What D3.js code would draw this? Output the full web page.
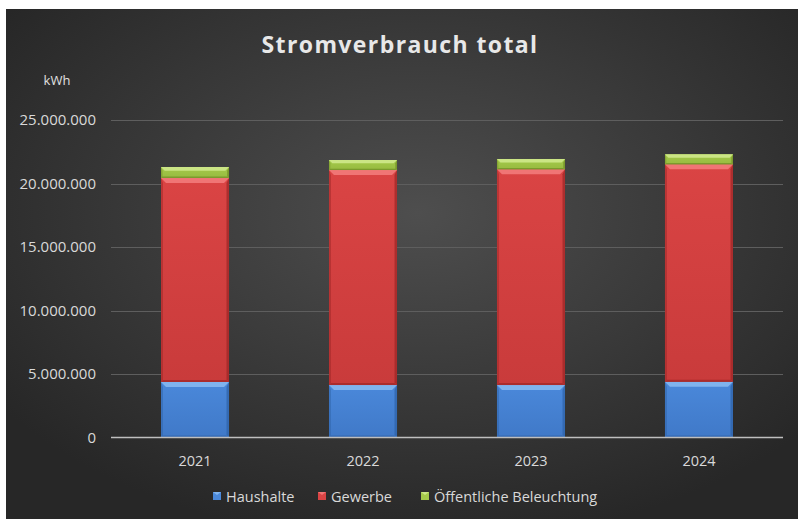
<!DOCTYPE html>
<html><head><meta charset="utf-8">
<script src="https://cdn.jsdelivr.net/npm/d3@7"></script>
<style>html,body{margin:0;padding:0;background:#fff;}svg{display:block;}</style>
</head><body>
<svg id="c" width="798" height="519"></svg>
<script>
const years = ["2021","2022","2023","2024"];
const seriesNames = ["Haushalte","Gewerbe","Öffentliche Beleuchtung"];
const haushalte = [4370000, 4130000, 4130000, 4390000];
const gewerbe = [16060000, 16930000, 16990000, 17120000];
const beleuchtung = [870000, 790000, 810000, 790000];
const yTicks = [0, 5000000, 10000000, 15000000, 20000000, 25000000];
const title = "Stromverbrauch total";
const unitLabel = "kWh";

const colors = [
  {base:"#4a88da", top:"#7fb3ee", side:"#2f63a8", dark:"#4079c8"},
  {base:"#da4444", top:"#f07575", side:"#9e2727", dark:"#c93b3b"},
  {base:"#a4c94a", top:"#cbe585", side:"#6f8c25", dark:"#97bb40"}
];

const svg = d3.select("#c");
const W = 798, H = 519;
const defs = svg.append("defs");
const bg = defs.append("radialGradient").attr("id","bg").attr("cx","52%").attr("cy","40%").attr("r","65%");
bg.append("stop").attr("offset","0%").attr("stop-color","#4e4e4e");
bg.append("stop").attr("offset","100%").attr("stop-color","#272727");
svg.append("rect").attr("x",6).attr("y",9).attr("width",W-6).attr("height",H-9).attr("fill","url(#bg)");

colors.forEach((c,i)=>{
  const g = defs.append("linearGradient").attr("id","g"+i).attr("x1",0).attr("y1",0).attr("x2",0).attr("y2",1);
  g.append("stop").attr("offset","0%").attr("stop-color",c.base);
  g.append("stop").attr("offset","100%").attr("stop-color",c.dark);
});

const x = d3.scaleBand().domain(years).range([111,783]).paddingInner(0.595).paddingOuter(0.2976);
const y = d3.scaleLinear().domain([0,25000000]).range([437.5,120]);

const font = "'Open Sans', 'Liberation Sans', sans-serif";
const fmt = v => d3.format(",")(v).replace(/,/g,".");

svg.append("g").selectAll("line").data(yTicks.filter(t=>t>0)).join("line")
  .attr("x1",111).attr("x2",783).attr("y1",d=>Math.round(y(d))+0.5).attr("y2",d=>Math.round(y(d))+0.5)
  .attr("stroke","#5e5e5e").attr("stroke-width",1);

const yAxis = d3.axisLeft(y).tickValues(yTicks).tickFormat(fmt).tickSize(0).tickPadding(0);
const ya = svg.append("g").attr("transform","translate(96,0)").call(yAxis);
ya.select(".domain").remove();
ya.selectAll("text").attr("fill","#d9d9d9").style("font-family",font).style("font-size","15px");

const rows = years.map((yr,i)=>({year:yr, Haushalte:haushalte[i], Gewerbe:gewerbe[i], "Öffentliche Beleuchtung":beleuchtung[i]}));
const stack = d3.stack().keys(seriesNames)(rows);

const bw = x.bandwidth();
const b = 5;
stack.forEach((ser,si)=>{
  const c = colors[si];
  const g = svg.append("g");
  ser.forEach(d=>{
    const x0 = x(d.data.year), y0 = y(d[1]), y1 = y(d[0]), h = y1-y0;
    const bb = Math.min(b, h/3);
    g.append("rect").attr("x",x0).attr("y",y0).attr("width",bw).attr("height",h).attr("fill","url(#g"+si+")");
    g.append("polygon").attr("points",[[x0,y0],[x0+bb*0.4,y0+bb],[x0+bb*0.4,y1-bb*0.4],[x0,y1]].join(" ")).attr("fill",c.side).attr("opacity",0.5);
    g.append("polygon").attr("points",[[x0+bw,y0],[x0+bw-bb*0.5,y0+bb],[x0+bw-bb*0.5,y1-bb*0.5],[x0+bw,y1]].join(" ")).attr("fill",c.side).attr("opacity",0.75);
    g.append("polygon").attr("points",[[x0,y1],[x0+bb*0.4,y1-bb*0.4],[x0+bw-bb*0.5,y1-bb*0.4],[x0+bw,y1]].join(" ")).attr("fill",c.side).attr("opacity",0.7);
    g.append("polygon").attr("points",[[x0,y0],[x0+bw,y0],[x0+bw-bb,y0+bb],[x0+bb,y0+bb]].join(" ")).attr("fill",c.top);
  });
});

svg.append("line").attr("x1",111).attr("x2",783).attr("y1",437.5).attr("y2",437.5).attr("stroke","#bfbfbf").attr("stroke-width",1.5);

const xAxis = d3.axisBottom(x).tickSize(0).tickPadding(0);
const xa = svg.append("g").attr("transform","translate(0,456)").call(xAxis);
xa.select(".domain").remove();
xa.selectAll("text").attr("fill","#d9d9d9").attr("dy","0.71em").style("font-family",font).style("font-size","14.5px");

svg.append("text").attr("x",400).attr("y",53).attr("text-anchor","middle").attr("fill","#e8e8e8")
  .style("font-family",font).style("font-size","23px").style("font-weight","bold").style("letter-spacing","1.4px").text(title);

svg.append("text").attr("x",57).attr("y",85).attr("text-anchor","middle").attr("fill","#e0e0e0")
  .style("font-family",font).style("font-size","13px").text(unitLabel);

const legX = [213, 318, 421];
const leg = svg.append("g");
seriesNames.forEach((n,i)=>{
  const c = colors[i];
  const gx = legX[i], gy = 492;
  leg.append("rect").attr("x",gx).attr("y",gy).attr("width",8).attr("height",8).attr("fill",c.base);
  leg.append("polygon").attr("points",[[gx,gy],[gx+8,gy],[gx+4,gy+3]].join(" ")).attr("fill",c.top);
  leg.append("text").attr("x",gx+13).attr("y",gy+9.5).attr("fill","#d9d9d9")
    .style("font-family",font).style("font-size","14.5px").text(n);
});
</script>
</body></html>
